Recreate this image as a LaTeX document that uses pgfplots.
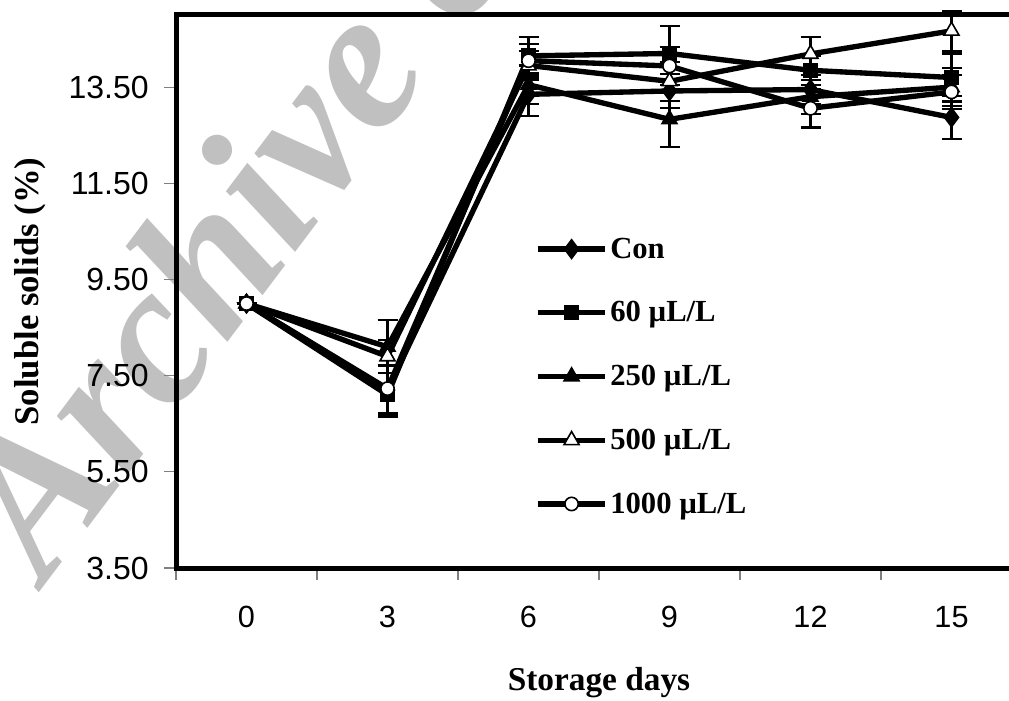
\documentclass[border=0pt]{standalone}
\usepackage{pgfplots}
\pgfplotsset{compat=1.18}
\usepackage{fontspec}
\setmainfont{Liberation Serif}
\newfontfamily\arial{Liberation Sans}
\definecolor{wm}{RGB}{192,192,192}
\pgfplotsset{
  ser/.style={black, line width=4pt},
  eb/.style={error bars/.cd, y dir=both, y explicit,
    error bar style={line width=1.6pt, black},
    error mark options={rotate=90, mark size=7.5pt, line width=1.6pt, black}},
}
\begin{document}
\begin{tikzpicture}
\node[text=wm, rotate=53, anchor=base west, inner sep=0pt,
      font=\bfseries\itshape\fontsize{150}{155}\selectfont] at (33.75pt,86.25pt) {Archive of SID};
\begin{axis}[
  at={(132pt,99pt)}, anchor=south west,
  scale only axis, width=634.5pt, height=414.75pt,
  xmin=-0.5, xmax=5.5, ymin=3.5, ymax=15,
  clip=false,
  axis line style={line width=3.75pt, black},
  tick pos=left,
  tick align=outside, major tick length=9pt,
  tick style={gray, line width=0.8pt},
  xtick={-0.5,0.5,1.5,2.5,3.5,4.5,5.5},
  xticklabels={},
  extra x ticks={0,1,2,3,4,5},
  extra x tick labels={0,3,6,9,12,15},
  extra x tick style={major tick length=0pt, tick style={draw=none}},
  xticklabel style={font=\arial\fontsize{23}{23}\selectfont, yshift=-25pt},
  ytick={3.5,5.5,7.5,9.5,11.5,13.5},
  yticklabels={3.50,5.50,7.50,9.50,11.50,13.50},
  yticklabel style={font=\arial\fontsize{24}{24}\selectfont, xshift=-8pt},
  xlabel={Storage days},
  xlabel style={font=\bfseries\fontsize{25}{25}\selectfont, at={(axis description cs:0.5,-0.222)}, anchor=base},
  ylabel={Soluble solids (\%)},
  ylabel style={font=\bfseries\fontsize{26}{26}\selectfont, at={(axis description cs:-0.163,0.5)}, anchor=base},
  legend style={at={(0.42,0.607)}, anchor=north west, draw=none, fill=none,
    font=\bfseries\fontsize{23}{27}\selectfont, row sep=27pt, nodes={inner sep=2pt}},
  legend cell align=left,
  legend image code/.code={\draw[mark repeat=2,mark phase=2,#1] plot coordinates {(0pt,0pt) (25pt,0pt) (50pt,0pt)};},
]
\addplot[ser, mark=diamond*, mark size=7pt, mark options={solid, fill=black, line width=1.2pt}, eb] coordinates {
 (0,9.0) +- (0,0) (1,7.2) +- (0,0.5) (2,13.35) +- (0,0.45) (3,13.42) +- (0,0.35) (4,13.45) +- (0,0.3) (5,12.87) +- (0,0.45)};
\addlegendentry{Con}
\addplot[ser, mark=square*, mark size=5pt, mark options={solid, fill=black, line width=1.2pt}, eb] coordinates {
 (0,9.0) +- (0,0) (1,7.1) +- (0,0.45) (2,14.15) +- (0,0.4) (3,14.2) +- (0,0.57) (4,13.85) +- (0,0.3) (5,13.7) +- (0,0.5)};
\addlegendentry{60 µL/L}
\addplot[ser, mark=triangle*, mark size=6.5pt, mark options={solid, fill=black, line width=1.2pt}, eb] coordinates {
 (0,9.0) +- (0,0) (1,8.1) +- (0,0.55) (2,13.55) +- (0,0.4) (3,12.83) +- (0,0.58) (4,13.3) +- (0,0.35) (5,13.5) +- (0,0.4)};
\addlegendentry{250 µL/L}
\addplot[ser, mark=triangle*, mark size=6.5pt, mark options={solid, fill=white, line width=1.2pt}, eb] coordinates {
 (0,9.0) +- (0,0) (1,7.9) +- (0,0.35) (2,13.95) +- (0,0.3) (3,13.62) +- (0,0.4) (4,14.19) +- (0,0.35) (5,14.67) +- (0,0.42)};
\addlegendentry{500 µL/L}
\addplot[ser, mark=*, mark size=5pt, mark options={solid, fill=white, line width=1.2pt}, eb] coordinates {
 (0,9.0) +- (0,0) (1,7.23) +- (0,0.5) (2,14.05) +- (0,0.35) (3,13.94) +- (0,0.4) (4,13.06) +- (0,0.4) (5,13.4) +- (0,0.35)};
\addlegendentry{1000 µL/L}
\end{axis}
\pgfresetboundingbox
\path[use as bounding box] (0,0) rectangle (756.75pt,525pt);
\end{tikzpicture}
\end{document}
